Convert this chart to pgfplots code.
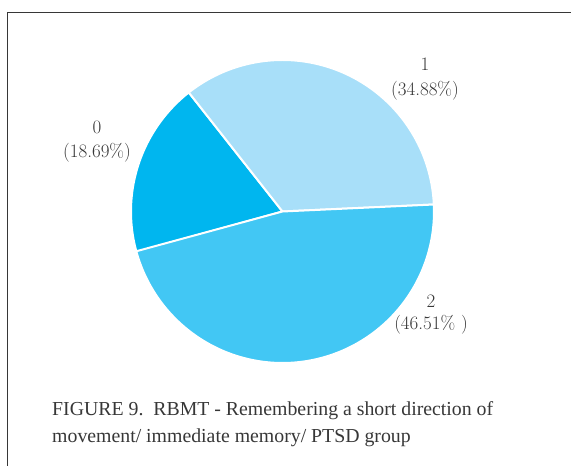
\documentclass[border=0pt]{standalone}
\usepackage{pgfplots}
\pgfplotsset{compat=1.18}
\usepackage{fontspec}
\newfontfamily\capfont{Liberation Serif}
\definecolor{cZero}{RGB}{0,182,239}
\definecolor{cOne}{RGB}{168,223,249}
\definecolor{cTwo}{RGB}{66,199,244}
\definecolor{txt}{RGB}{55,55,55}
\begin{document}
\begin{tikzpicture}
\def\pZero{18.69}\def\pOne{34.88}\def\pTwo{46.51}
\def\cx{282.5}\def\cy{256.5}\def\R{151.5}
\pgfmathsetmacro\aA{195.5}
\pgfmathsetmacro\aB{\aA-3.6*\pZero}
\pgfmathsetmacro\aC{\aB-3.6*\pOne}
\pgfmathsetmacro\aD{\aC-3.6*\pTwo}
\begin{axis}[width=571pt,height=468pt,scale only axis,anchor=south west,at={(0,0)},
  xmin=0,xmax=571,ymin=0,ymax=468,hide axis,clip=false]
% frame
\addplot[color=txt,line width=1.3pt] coordinates {(7.5,2) (7.5,455.5) (571,455.5)};
% slices
\addplot[fill=cZero,draw=white,line width=2pt,domain=\aB:\aA,samples=80,variable=\t]
  ({\cx+\R*cos(\t)},{\cy+\R*sin(\t)}) -- (axis cs:\cx,\cy) -- cycle;
\addplot[fill=cOne,draw=white,line width=2pt,domain=\aC:\aB,samples=100,variable=\t]
  ({\cx+\R*cos(\t)},{\cy+\R*sin(\t)}) -- (axis cs:\cx,\cy) -- cycle;
\addplot[fill=cTwo,draw=white,line width=2pt,domain=\aD:\aC,samples=140,variable=\t]
  ({\cx+\R*cos(\t)},{\cy+\R*sin(\t)}) -- (axis cs:\cx,\cy) -- cycle;
% labels
\node[txt,font=\fontsize{19}{22}\selectfont] at (axis cs:425,404) {1};
\node[txt,font=\fontsize{19}{22}\selectfont] at (axis cs:425,377) {(34.88\%)};
\node[txt,font=\fontsize{19}{22}\selectfont] at (axis cs:97,341) {0};
\node[txt,font=\fontsize{19}{22}\selectfont] at (axis cs:97,315) {(18.69\%)};
\node[txt,font=\fontsize{19}{22}\selectfont] at (axis cs:431,167) {2};
\node[txt,font=\fontsize{19}{22}\selectfont] at (axis cs:431,143) {(46.51\% )};
% caption
\node[txt,anchor=base west,inner sep=0pt,font=\capfont\fontsize{19.8}{24}\selectfont] at (axis cs:52,52) {FIGURE 9.\ \ RBMT - Remembering a short direction of};
\node[txt,anchor=base west,inner sep=0pt,font=\capfont\fontsize{19.8}{24}\selectfont] at (axis cs:52,25) {movement/ immediate memory/ PTSD group};
\end{axis}
\pgfresetboundingbox
\path[use as bounding box] (0,0) rectangle (571pt,468pt);
\end{tikzpicture}
\end{document}
